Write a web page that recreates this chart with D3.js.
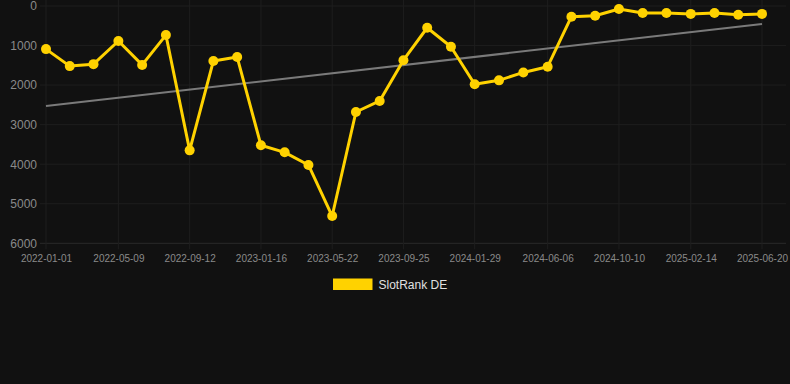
<!DOCTYPE html>
<html>
<head>
<meta charset="utf-8">
<script src="https://cdn.jsdelivr.net/npm/d3@7"></script>
<style>
  html, body { margin: 0; padding: 0; background: #111111; }
  svg { display: block; font-family: Arial, "Liberation Sans", sans-serif; }
</style>
</head>
<body>
<svg id="chart" width="790" height="384"></svg>
<script>
'use strict'

const pointDates = [
  '2022-01-01', '2022-02-12', '2022-03-26', '2022-05-09', '2022-06-20', '2022-08-01',
  '2022-09-12', '2022-10-24', '2022-12-05', '2023-01-16', '2023-02-27', '2023-04-10',
  '2023-05-22', '2023-07-03', '2023-08-14', '2023-09-25', '2023-11-06', '2023-12-18',
  '2024-01-29', '2024-03-12', '2024-04-24', '2024-06-06', '2024-07-18', '2024-08-29',
  '2024-10-10', '2024-11-21', '2025-01-02', '2025-02-14', '2025-03-28', '2025-05-09',
  '2025-06-20'
]

const rankValues = [
  1090, 1520, 1470, 885, 1490, 735,
  3650, 1390, 1290, 3520, 3700, 4020,
  5310, 2680, 2400, 1370, 550, 1030,
  1980, 1880, 1680, 1535, 270, 245,
  76, 177, 177, 200, 177, 220,
  200
]

const trendDates = ['2022-01-01', '2025-06-20']
const trendValues = [2530, 455]

const xTickLabels = [
  '2022-01-01', '2022-05-09', '2022-09-12', '2023-01-16', '2023-05-22', '2023-09-25',
  '2024-01-29', '2024-06-06', '2024-10-10', '2025-02-14', '2025-06-20'
]
const yTicks = [0, 1000, 2000, 3000, 4000, 5000, 6000]

const seriesName = 'SlotRank DE'

const parse = d3.utcParse('%Y-%m-%d')

const plot = { left: 46, right: 762, top: 6, bottom: 243.3 }

const x = d3.scaleUtc()
    .domain([parse(xTickLabels[0]), parse(xTickLabels[xTickLabels.length - 1])])
    .range([plot.left, plot.right])

const y = d3.scaleLinear()
    .domain([0, 6000])
    .range([plot.top, plot.bottom])

const svg = d3.select('#chart')

// grid
const grid = svg.append('g')
grid.selectAll('line.h')
    .data(yTicks)
    .enter()
    .append('line')
    .attr('x1', plot.left - 6)
    .attr('x2', plot.right + 24)
    .attr('y1', d => y(d))
    .attr('y2', d => y(d))
    .attr('stroke', d => d === 6000 ? '#2a2a2a' : '#1e1e1e')
    .attr('stroke-width', 1)

grid.selectAll('line.v')
    .data(xTickLabels)
    .enter()
    .append('line')
    .attr('x1', d => x(parse(d)))
    .attr('x2', d => x(parse(d)))
    .attr('y1', 0)
    .attr('y2', plot.bottom + 6)
    .attr('stroke', '#1e1e1e')
    .attr('stroke-width', 1)

// axes
const yAxis = d3.axisLeft(y)
    .tickValues(yTicks)
    .tickSize(0)
    .tickPadding(9)
    .tickFormat(d3.format('d'))

svg.append('g')
    .attr('transform', `translate(${plot.left},0)`)
    .call(yAxis)
    .call(g => g.select('.domain').remove())
    .call(g => g.selectAll('text')
        .attr('fill', '#8a8a8a')
        .style('font-size', '12px'))

const xAxis = d3.axisBottom(x)
    .tickValues(xTickLabels.map(parse))
    .tickSize(0)
    .tickPadding(12)
    .tickFormat(d3.utcFormat('%Y-%m-%d'))

svg.append('g')
    .attr('transform', `translate(0,${plot.bottom})`)
    .call(xAxis)
    .call(g => g.select('.domain').remove())
    .call(g => g.selectAll('text')
        .attr('fill', '#8a8a8a')
        .style('font-size', '10px'))

// trend
const trend = trendDates.map((d, i) => ({ date: parse(d), value: trendValues[i] }))
svg.append('path')
    .datum(trend)
    .attr('fill', 'none')
    .attr('stroke', '#7a7a7a')
    .attr('stroke-width', 2)
    .attr('d', d3.line().x(d => x(d.date)).y(d => y(d.value)))

// series
const data = pointDates.map((d, i) => ({ date: parse(d), value: rankValues[i] }))

svg.append('path')
    .datum(data)
    .attr('fill', 'none')
    .attr('stroke', '#ffd200')
    .attr('stroke-width', 3)
    .attr('stroke-linejoin', 'round')
    .attr('d', d3.line().x(d => x(d.date)).y(d => y(d.value)))

svg.append('g')
    .selectAll('circle')
    .data(data)
    .enter()
    .append('circle')
    .attr('cx', d => x(d.date))
    .attr('cy', d => y(d.value))
    .attr('r', 5)
    .attr('fill', '#ffd200')

// legend
const legend = svg.append('g')
legend.append('rect')
    .attr('x', 333)
    .attr('y', 278.5)
    .attr('width', 39.5)
    .attr('height', 11.5)
    .attr('fill', '#ffd200')
legend.append('text')
    .attr('x', 378.5)
    .attr('y', 289)
    .attr('fill', '#e0e0e0')
    .style('font-size', '12px')
    .text(seriesName)
</script>
</body>
</html>
